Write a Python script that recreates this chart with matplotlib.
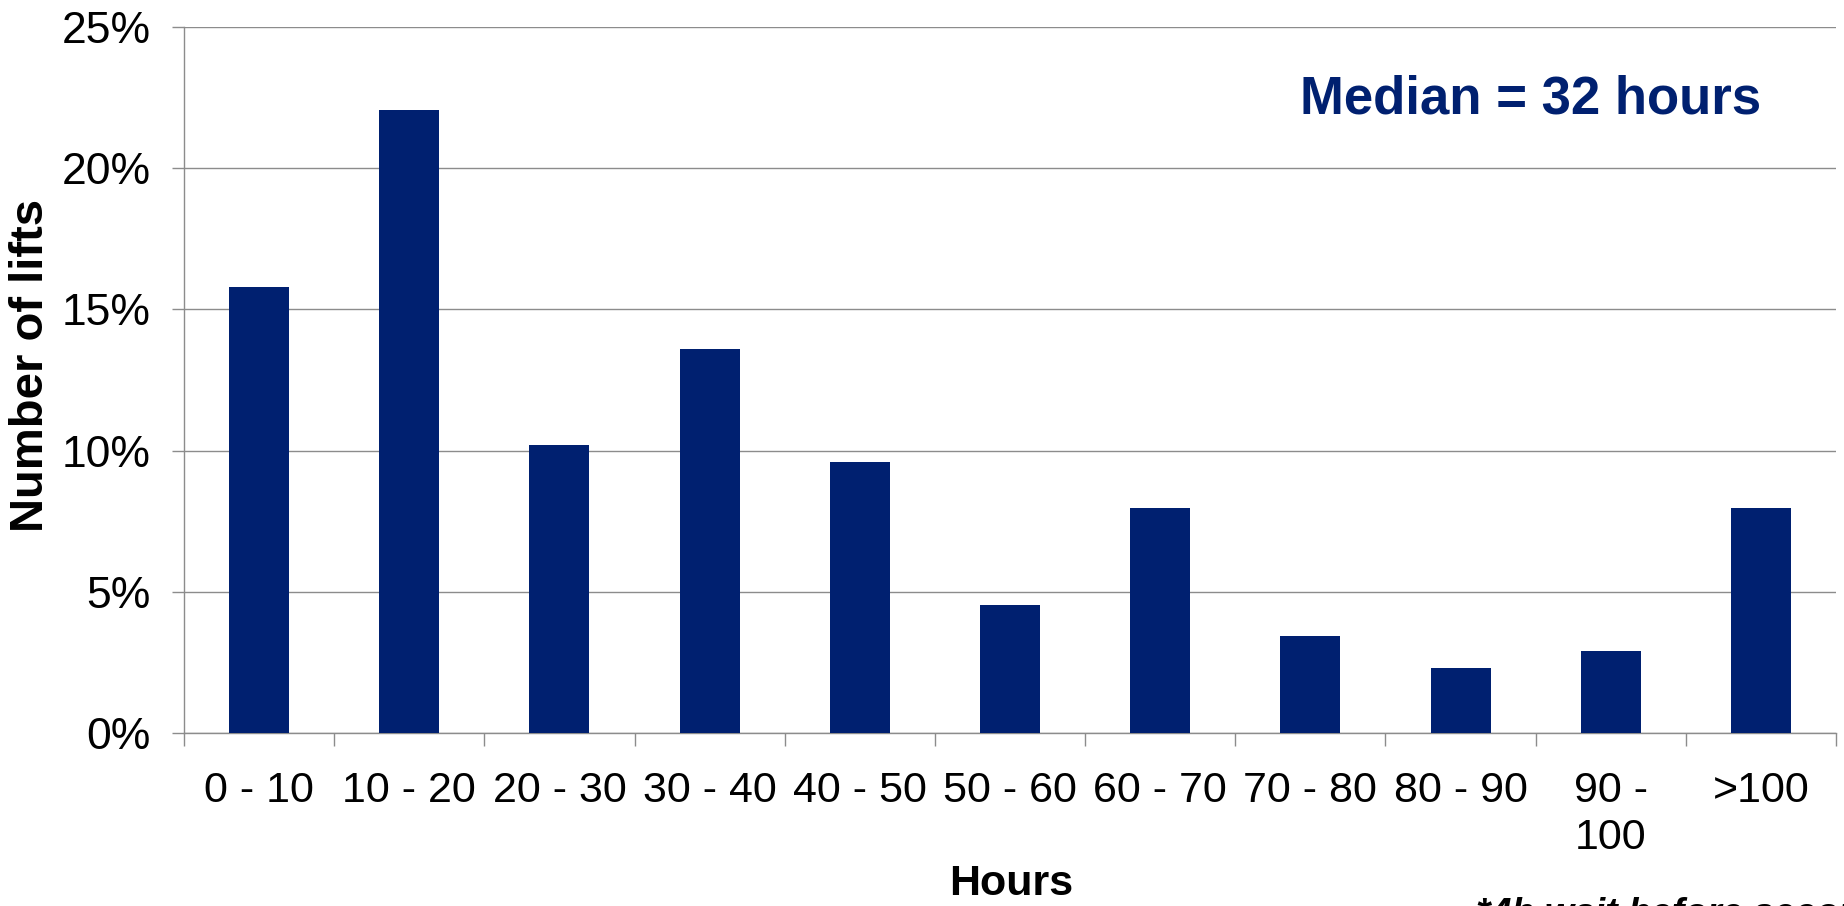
import matplotlib
matplotlib.use("Agg")
import matplotlib.pyplot as plt
from matplotlib.ticker import FuncFormatter, FixedLocator

categories = ["0 - 10", "10 - 20", "20 - 30", "30 - 40", "40 - 50", "50 - 60",
              "60 - 70", "70 - 80", "80 - 90", "90 -\n100", ">100"]
share = [15.8, 22.05, 10.2, 13.6, 9.6, 4.55, 7.95, 3.45, 2.3, 2.9, 7.95]
y_ticks = [0, 5, 10, 15, 20, 25]

navy = "#002070"
grid_c = "#8c8c8c"

plt.rcParams['font.family'] = ['Liberation Sans', 'DejaVu Sans']

fig = plt.figure(figsize=(18.44, 9.06), dpi=100)
ax = fig.add_axes([184/1844, 1 - 733/906, (1836-184)/1844, (733-27)/906])

x = list(range(len(categories)))
ax.bar(x, [v/100 for v in share], width=0.4, color=navy, zorder=3)

ax.set_xlim(-0.5, len(categories) - 0.5)
ax.set_ylim(0, 0.25)
ax.set_yticks([t/100 for t in y_ticks])
ax.yaxis.set_major_formatter(FuncFormatter(lambda v, p: f"{v*100:.0f}%"))
ax.yaxis.grid(True, color=grid_c, linewidth=1.0, zorder=0)
ax.tick_params(axis='y', length=9, width=1.0, color=grid_c, labelsize=32, pad=15)

ax.xaxis.set_major_locator(FixedLocator([i - 0.5 for i in range(len(categories) + 1)]))
ax.xaxis.set_major_formatter(FuncFormatter(lambda v, p: ""))
ax.xaxis.set_minor_locator(FixedLocator(x))
ax.set_xticklabels(categories, minor=True)
ax.tick_params(axis='x', which='major', length=9, width=1.0, color=grid_c)
ax.tick_params(axis='x', which='minor', length=0, labelsize=31, pad=27)
for lab in ax.get_xticklabels(minor=True):
    lab.set_linespacing(1.25)

for s in ['top', 'right']:
    ax.spines[s].set_visible(False)
for s in ['left', 'bottom']:
    ax.spines[s].set_color(grid_c)
    ax.spines[s].set_linewidth(1.0)

fig.text(31/1844, 1 - 365/906, "Number of lifts", rotation=90, fontsize=34,
         fontweight='bold', ha='center', va='center')
fig.text(1011/1844, 1 - 884/906, "Hours", fontsize=31, fontweight='bold',
         ha='center', va='center')
fig.text(1300/1844, 1 - 100/906, "Median = 32 hours", fontsize=38,
         fontweight='bold', color=navy, ha='left', va='center')
fig.text(1476/1844, 1 - 897/906, "*4h wait before second lift", fontsize=27,
         fontweight='bold', style='italic', ha='left', va='top')

fig.savefig("out.png", dpi=100)
